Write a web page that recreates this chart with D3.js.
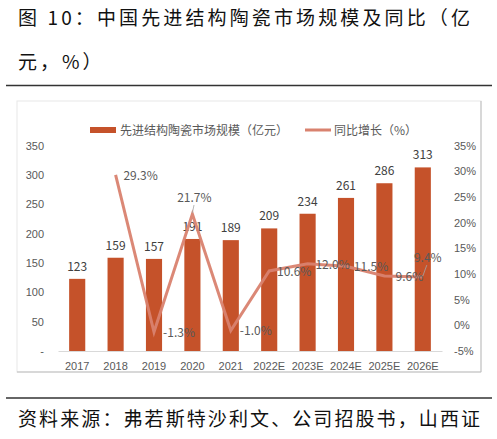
<!DOCTYPE html>
<html>
<head>
<meta charset="utf-8">
<script src="https://cdn.jsdelivr.net/npm/d3@7/dist/d3.min.js"></script>
<style>
  html, body { margin: 0; padding: 0; background: #fff; }
  svg { display: block; font-family: "Noto Sans CJK SC", "Noto Sans", sans-serif; }
</style>
</head>
<body>
<div id="chart"></div>
<script>
// chart data
var years = ['2017', '2018', '2019', '2020', '2021', '2022E', '2023E', '2024E', '2025E', '2026E'];
var marketSize = [123, 159, 157, 191, 189, 209, 234, 261, 286, 313];
var growthYears = ['2018', '2019', '2020', '2021', '2022E', '2023E', '2024E', '2025E', '2026E'];
var growthRate = [29.3, -1.3, 21.7, -1.0, 10.6, 12.0, 11.5, 9.6, 9.4];
var leftTicks = [0, 50, 100, 150, 200, 250, 300, 350];
var rightTicks = [-5, 0, 5, 10, 15, 20, 25, 30, 35];

var W = 497, H = 439;
var barColor = '#C5522A', lineColor = '#D9826F', textGray = '#595959';

var svg = d3.select('#chart').append('svg')
    .attr('width', W)
    .attr('height', H);

// title
svg.append('text').attr('x', 18).attr('y', 25)
    .attr('font-size', 19).attr('fill', '#111')
    .attr('textLength', 452).attr('lengthAdjust', 'spacing')
    .text('图 10：中国先进结构陶瓷市场规模及同比（亿');
svg.append('text').attr('x', 18).attr('y', 69)
    .attr('font-size', 19).attr('letter-spacing', 3).attr('fill', '#111')
    .text('元，%）');

// rules
svg.append('line').attr('x1', 6).attr('x2', 492).attr('y1', 85.5).attr('y2', 85.5)
    .attr('stroke', '#333').attr('stroke-width', 1.3);
svg.append('line').attr('x1', 6).attr('x2', 492).attr('y1', 398).attr('y2', 398)
    .attr('stroke', '#333').attr('stroke-width', 1.3);

// chart frame
svg.append('rect').attr('x', 17).attr('y', 101).attr('width', 464).attr('height', 271)
    .attr('fill', 'none').attr('stroke', '#e8e8e8');
svg.append('path').attr('d', 'M481,101V372H17')
    .attr('fill', 'none').attr('stroke', '#bdbdbd');

// footer
svg.append('text').attr('x', 18).attr('y', 426)
    .attr('font-size', 19).attr('fill', '#111')
    .attr('textLength', 462).attr('lengthAdjust', 'spacing')
    .text('资料来源：弗若斯特沙利文、公司招股书，山西证');

// scales
var plot = { left: 58, right: 442, top: 145.7, bottom: 351 };

var x = d3.scaleBand().domain(years).range([plot.left, plot.right]).paddingInner(0.58).paddingOuter(0.29);
var xc = function (d) { return x(d) + x.bandwidth() / 2; };
var yL = d3.scaleLinear().domain([0, 350]).range([plot.bottom, plot.top]);
var yR = d3.scaleLinear().domain([-5, 35]).range([plot.bottom, plot.top]);

// left axis
var leftAxis = d3.axisLeft(yL).tickValues(leftTicks).tickSize(0).tickPadding(14)
    .tickFormat(function (d) { return d === 0 ? '-' : d; });
var gl = svg.append('g').attr('transform', 'translate(' + plot.left + ',0)').call(leftAxis);
gl.select('.domain').remove();
gl.selectAll('text').attr('font-size', 11).attr('fill', textGray);

// right axis
var rightAxis = d3.axisRight(yR).tickValues(rightTicks).tickSize(0).tickPadding(12)
    .tickFormat(function (d) { return d + '%'; });
var gr = svg.append('g').attr('transform', 'translate(' + plot.right + ',0)').call(rightAxis);
gr.select('.domain').remove();
gr.selectAll('text').attr('font-size', 11).attr('fill', textGray);

// bottom axis
var bottomAxis = d3.axisBottom(x).tickSize(0).tickPadding(11);
var gb = svg.append('g').attr('transform', 'translate(0,' + plot.bottom + ')').call(bottomAxis);
gb.select('.domain').attr('stroke', '#d9d9d9');
gb.selectAll('text').attr('font-size', 11).attr('fill', textGray);

// bars
svg.append('g').selectAll('rect')
    .data(marketSize)
    .enter().append('rect')
    .attr('x', function (d, i) { return x(years[i]); })
    .attr('y', function (d) { return yL(d); })
    .attr('width', x.bandwidth())
    .attr('height', function (d) { return plot.bottom - yL(d); })
    .attr('fill', barColor);

svg.append('g').selectAll('text')
    .data(marketSize)
    .enter().append('text')
    .attr('x', function (d, i) { return xc(years[i]); })
    .attr('y', function (d) { return yL(d) - 8; })
    .attr('text-anchor', 'middle')
    .attr('font-size', 12).attr('fill', '#404040')
    .text(function (d) { return d; });

// growth line
var line = d3.line()
    .x(function (d, i) { return xc(growthYears[i]); })
    .y(function (d) { return yR(d); });

svg.append('path')
    .attr('d', line(growthRate))
    .attr('fill', 'none')
    .attr('stroke', lineColor)
    .attr('stroke-width', 3)
    .attr('stroke-opacity', 0.95);

// label placement: most to the right, a couple above with leader lines
var above = { '2020': [2, -12], '2026E': [5, -15] };
var lbl = svg.append('g');
growthRate.forEach(function (d, i) {
    var px = xc(growthYears[i]), py = yR(d);
    var off = above[growthYears[i]];
    var lx, ly;
    if (off) {
        lx = px + off[0]; ly = py + off[1];
        lbl.append('line')
            .attr('x1', px).attr('y1', py - 1)
            .attr('x2', px + off[0] * 0.8).attr('y2', ly + 3)
            .attr('stroke', '#a6a6a6').attr('stroke-width', 0.8);
    } else {
        lx = px + 25; ly = py + 5;
    }
    lbl.append('text')
        .attr('x', lx).attr('y', ly)
        .attr('text-anchor', 'middle')
        .attr('font-size', 12).attr('fill', textGray)
        .text(d.toFixed(1) + '%');
});

// legend
var lg = svg.append('g');
lg.append('rect').attr('x', 90).attr('y', 127).attr('width', 26).attr('height', 6).attr('fill', barColor);
lg.append('text').attr('x', 120).attr('y', 134.5).attr('font-size', 12).attr('fill', textGray)
    .text('先进结构陶瓷市场规模（亿元）');
lg.append('line').attr('x1', 305).attr('x2', 331).attr('y1', 130).attr('y2', 130)
    .attr('stroke', lineColor).attr('stroke-width', 3);
lg.append('text').attr('x', 334).attr('y', 134.5).attr('font-size', 12).attr('fill', textGray)
    .text('同比增长（%）');
</script>
</body>
</html>
